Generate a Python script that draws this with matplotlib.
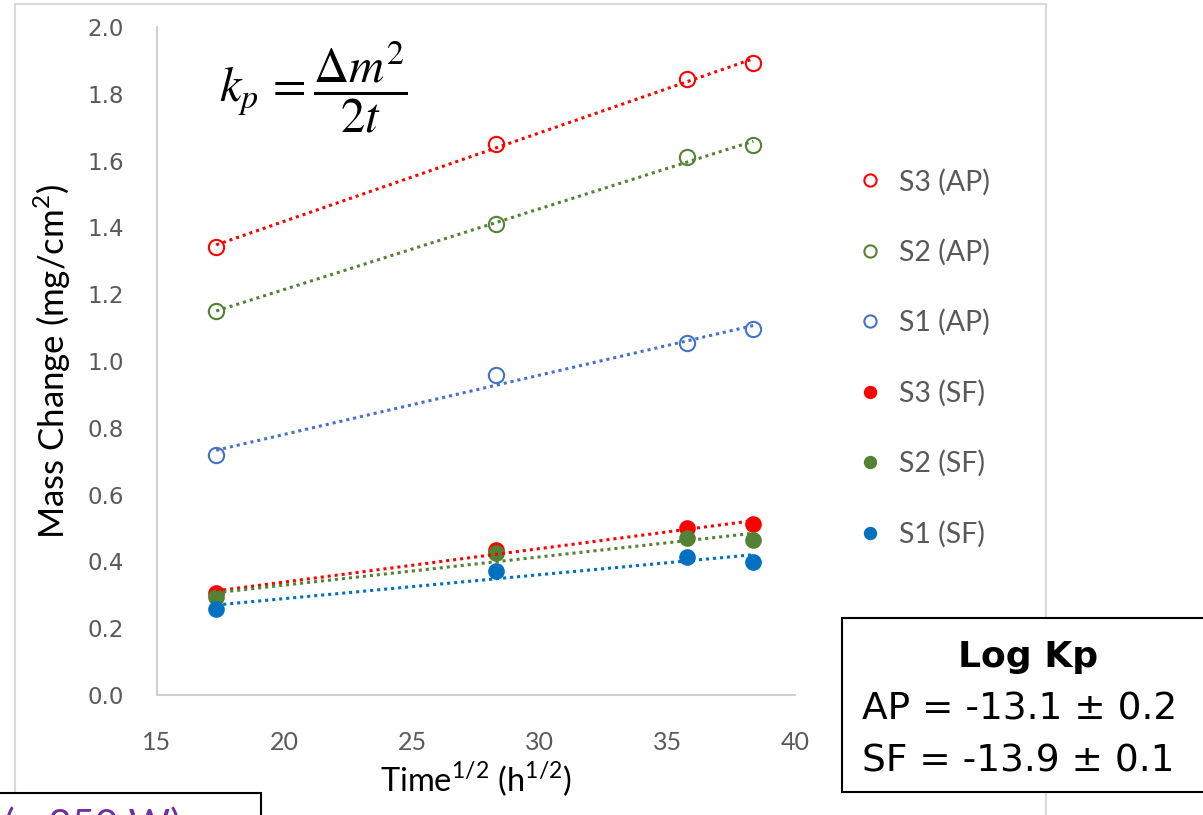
import numpy as np
import matplotlib.pyplot as plt
from matplotlib.patches import Rectangle

# sqrt(time) in h^1/2
t_sqrt = [17.32, 28.28, 35.78, 38.37]

# mass change (mg/cm2)
s3_ap = [1.341, 1.650, 1.844, 1.892]
s2_ap = [1.150, 1.410, 1.611, 1.647]
s1_ap = [0.719, 0.958, 1.054, 1.096]
s3_sf = [0.305, 0.434, 0.500, 0.512]
s2_sf = [0.293, 0.425, 0.470, 0.464]
s1_sf = [0.257, 0.371, 0.413, 0.398]

labels = ['S3 (AP)', 'S2 (AP)', 'S1 (AP)', 'S3 (SF)', 'S2 (SF)', 'S1 (SF)']
colors = ['#FF0000', '#548235', '#4472C4', '#FF0000', '#548235', '#0070C0']
series = [s3_ap, s2_ap, s1_ap, s3_sf, s2_sf, s1_sf]
filled = [False, False, False, True, True, True]

fig = plt.figure(figsize=(12.03, 8.15), dpi=100)

# chart area border
fig.patches.append(Rectangle((15 / 1203, -0.1), 1031 / 1203, 1.1 - 4 / 815,
                             transform=fig.transFigure, fill=False,
                             edgecolor='#d9d9d9', linewidth=1.5, zorder=0))

ax = fig.add_axes([157 / 1203, 1 - 695 / 815, 638 / 1203, 668 / 815])

x = np.array(t_sqrt)
for y, c, lab, f in zip(series, colors, labels, filled):
    if f:
        ax.plot(x, y, 'o', color=c, markersize=12, markeredgewidth=0,
                label=lab, zorder=3)
    else:
        ax.plot(x, y, 'o', markerfacecolor='none', markeredgecolor=c,
                markersize=11, markeredgewidth=1.5, label=lab, zorder=3)
    # linear trendline
    k, b = np.polyfit(x, y, 1)
    ax.plot([x[0], x[-1]], [k * x[0] + b, k * x[-1] + b], color=c,
            linestyle=(0, (1, 1.3)), linewidth=2.2, zorder=4)

ax.set_xlim(15, 40)
ax.set_ylim(0, 2.0)
ax.set_xticks(np.arange(15, 41, 5))
ax.set_yticks(np.arange(0, 2.01, 0.2))
ax.set_yticklabels(['%.1f' % v for v in np.arange(0, 2.01, 0.2)],
                   family='DejaVu Sans', fontsize=16.5, color='#595959')
ax.set_xticklabels([str(v) for v in range(15, 41, 5)],
                   family='Lato', fontsize=18, color='#595959')
ax.tick_params(axis='y', length=0, pad=24)
ax.tick_params(axis='x', length=0, pad=26)

for s in ['top', 'right']:
    ax.spines[s].set_visible(False)
for s in ['left', 'bottom']:
    ax.spines[s].set_color('#d0d0d0')
    ax.spines[s].set_linewidth(1.5)

ax.set_ylabel('Mass Change (mg/cm$^{\\mathregular{2}}$)', family='Lato',
              fontsize=25, labelpad=10)
ax.set_xlabel('Time$^{\\mathregular{1/2}}$ (h$^{\\mathregular{1/2}}$)',
              family='Lato', fontsize=23.5, labelpad=4)

ax.text(0.245, 0.91, r'$k_p\, =\dfrac{\Delta m^2}{2t}$', transform=ax.transAxes,
        ha='center', va='center', fontsize=35, math_fontfamily='stix')

leg = ax.legend(loc='center left', bbox_to_anchor=(859 / 1203, 1 - 358 / 815),
                bbox_transform=fig.transFigure, frameon=False,
                prop={'family': 'Lato', 'size': 20.5}, labelspacing=1.53,
                handlelength=0.8, handletextpad=0.6, borderpad=0,
                borderaxespad=0, markerscale=0.8)
for t in leg.get_texts():
    t.set_color('#595959')

# Log Kp box
fig.patches.append(Rectangle((842 / 1203, 1 - 792 / 815), 0.4, 174 / 815,
                             transform=fig.transFigure, facecolor='white',
                             edgecolor='black', linewidth=1.5, zorder=5))
fig.text(1028 / 1203, 1 - 657 / 815, 'Log Kp', ha='center', va='center',
         fontsize=26, fontweight='bold', family='DejaVu Sans', zorder=6)
fig.text(862 / 1203, 1 - 720 / 815, 'AP = -13.1 \u00b1 0.2', ha='left',
         va='baseline', fontsize=27, family='DejaVu Sans', zorder=6)
fig.text(862 / 1203, 1 - 771 / 815, 'SF = -13.9 \u00b1 0.1', ha='left',
         va='baseline', fontsize=27, family='DejaVu Sans', zorder=6)

# cut-off box at bottom left
fig.patches.append(Rectangle((-0.01, -0.1), 273 / 1203, 0.1 + 22 / 815,
                             transform=fig.transFigure, facecolor='white',
                             edgecolor='black', linewidth=1.5, zorder=5))
fig.text(4 / 1203, 1 - 807 / 815, '(~ 350 W)', ha='left', va='top',
         fontsize=29, family='Lato', color='#7030A0', zorder=6)

plt.savefig('out.png', dpi=100)
